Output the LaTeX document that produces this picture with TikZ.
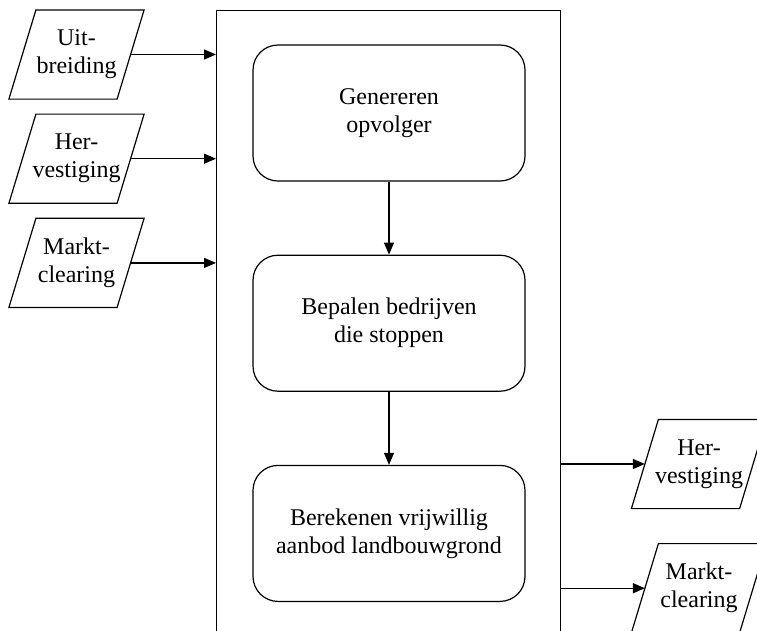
\documentclass[tikz,border=0pt]{standalone}
\usepackage{fontspec}
\setmainfont{Liberation Serif}
\usetikzlibrary{arrows.meta,positioning}

\begin{document}
\begin{tikzpicture}[x=1pt,y=-1pt,line width=1.2pt,
  font=\fontsize{24}{28}\selectfont,
  invoer/.style={minimum width=107pt,minimum height=88pt,inner sep=0pt,align=center},
  stap/.style={draw,rounded corners=25pt,minimum width=272pt,minimum height=136pt,align=center},
  pijl/.style={-{Triangle[length=12pt,width=10pt]}}]

\useasboundingbox (0,0) rectangle (757,630);
\clip (0,0) rectangle (757,630);

% kader
\node (frame) [draw,minimum width=344pt,minimum height=700pt,anchor=north west,inner sep=0pt] at (216,10) {};

% invoer
\node (uit) [invoer] at (76.5,54.5) {Uit-\\breiding};
\node (herin) [invoer,below=15pt of uit] {Her-\\vestiging};
\node (mktin) [invoer,below=15pt of herin] {Markt-\\clearing};

% stappen
\node (gen) [stap] at (389,113) {Genereren\\opvolger};
\node (bep) [stap,below=73pt of gen] {Bepalen bedrijven\\die stoppen};
\node (ber) [stap,below=73pt of bep] {Berekenen vrijwillig\\aanbod landbouwgrond};

% uitvoer
\node (heruit) [invoer] at (699,464) {Her-\\vestiging};
\node (mktuit) [invoer,below=35pt of heruit] {Markt-\\clearing};

% parallellogrammen
\foreach \n in {uit,herin,mktin,heruit,mktuit}
  \draw ([xshift=13.5pt]\n.north west) -- ([xshift=13.5pt]\n.north east)
    -- ([xshift=-13.5pt]\n.south east) -- ([xshift=-13.5pt]\n.south west) -- cycle;

% pijlen
\draw[pijl] (uit.east) -- (uit.east -| frame.west);
\draw[pijl] (herin.east) -- (herin.east -| frame.west);
\draw[pijl] (mktin.east) -- (mktin.east -| frame.west);
\draw[pijl] (gen) -- (bep);
\draw[pijl] (bep) -- (ber);
\draw[pijl] (heruit.west -| frame.east) -- (heruit.west);
\draw[pijl] (mktuit.west -| frame.east) -- (mktuit.west);
\end{tikzpicture}
\end{document}
